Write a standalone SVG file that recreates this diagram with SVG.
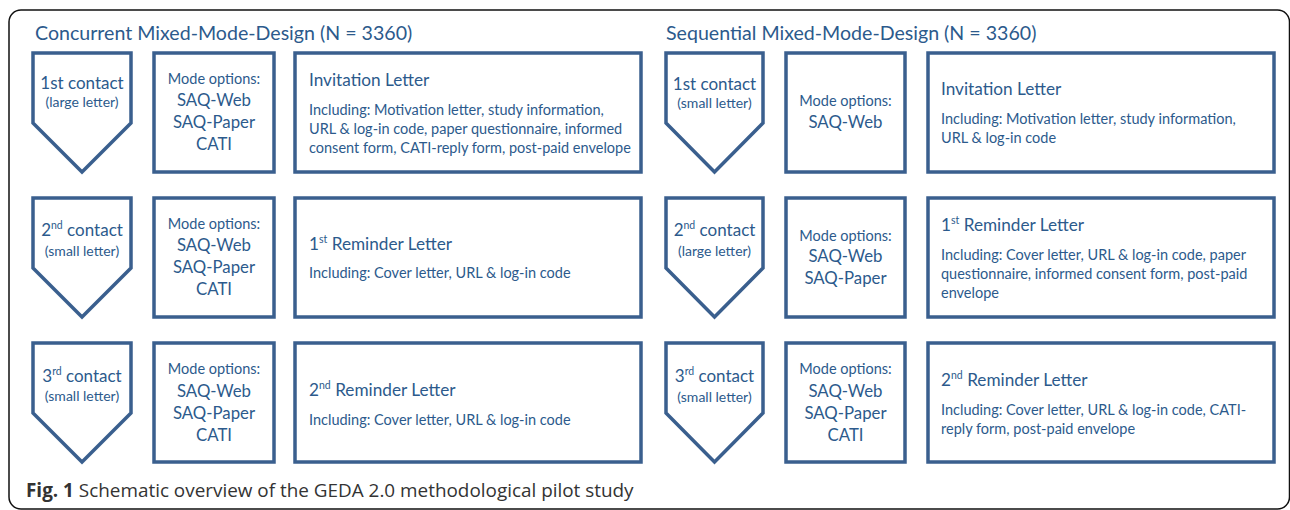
<svg xmlns="http://www.w3.org/2000/svg" width="1290" height="510" viewBox="0 0 1290 510">
<style>
.shape{fill:#fff;stroke:#3a5f8e;stroke-width:3.5;stroke-linejoin:miter}
text{font-family:Lato,"Noto Sans","Liberation Sans",sans-serif;fill:#2c5a8c}
.title{font-size:19.6px}
.c1{font-size:17px;text-anchor:middle}
.c2{font-size:14px;text-anchor:middle}
.m1{font-size:14.5px;text-anchor:middle}
.m2{font-size:16.8px;text-anchor:middle}
.lt{font-size:17.2px}
.ld{font-size:14.5px}
.cap{font-family:"Open Sans","Noto Sans",sans-serif;font-size:18.9px;fill:#333}
</style>
<rect x="9" y="10" width="1280.5" height="499" rx="12" fill="#fff" stroke="#111" stroke-width="1.5"/>
<text class="title" x="35" y="40">Concurrent Mixed-Mode-Design (N = 3360)</text>
<text class="title" x="666" y="40">Sequential Mixed-Mode-Design (N = 3360)</text>
<g id="connectors"/>
<!-- Left column -->
<g id="c-contact1">
<path class="shape" d="M33,53 H131 V123 L82,172 L33,123 Z"/>
<text class="c1" x="82" y="89">1st contact</text>
<text class="c2" x="82" y="107">(large letter)</text>
</g>
<g id="c-modes1">
<rect class="shape" x="154" y="53" width="120" height="119"/>
<text class="m1" x="214" y="84">Mode options:</text>
<text class="m2" x="214" y="106">SAQ-Web</text>
<text class="m2" x="214" y="128">SAQ-Paper</text>
<text class="m2" x="214" y="150">CATI</text>
</g>
<g id="c-letter1">
<rect class="shape" x="295" y="53" width="346" height="119"/>
<text class="lt" x="309" y="86">Invitation Letter</text>
<text class="ld" x="309" y="115">Including: Motivation letter, study information,</text>
<text class="ld" x="309" y="134">URL &amp; log-in code, paper questionnaire, informed</text>
<text class="ld" x="309" y="153">consent form, CATI-reply form, post-paid envelope</text>
</g>
<g id="c-contact2">
<path class="shape" d="M33,198 H131 V268 L82,317 L33,268 Z"/>
<text class="c1" x="82" y="236">2<tspan font-size="10.5" dy="-7">nd</tspan><tspan dy="7"> contact</tspan></text>
<text class="c2" x="82" y="256">(small letter)</text>
</g>
<g id="c-modes2">
<rect class="shape" x="154" y="198" width="120" height="119"/>
<text class="m1" x="214" y="229">Mode options:</text>
<text class="m2" x="214" y="251">SAQ-Web</text>
<text class="m2" x="214" y="273">SAQ-Paper</text>
<text class="m2" x="214" y="295">CATI</text>
</g>
<g id="c-letter2">
<rect class="shape" x="295" y="198" width="346" height="119"/>
<text class="lt" x="309" y="250">1<tspan font-size="10.5" dy="-7">st</tspan><tspan dy="7"> Reminder Letter</tspan></text>
<text class="ld" x="309" y="278">Including: Cover letter, URL &amp; log-in code</text>
</g>
<g id="c-contact3">
<path class="shape" d="M33,343 H131 V413 L82,462 L33,413 Z"/>
<text class="c1" x="82" y="382">3<tspan font-size="10.5" dy="-7">rd</tspan><tspan dy="7"> contact</tspan></text>
<text class="c2" x="82" y="401">(small letter)</text>
</g>
<g id="c-modes3">
<rect class="shape" x="154" y="343" width="120" height="119"/>
<text class="m1" x="214" y="374">Mode options:</text>
<text class="m2" x="214" y="397">SAQ-Web</text>
<text class="m2" x="214" y="419">SAQ-Paper</text>
<text class="m2" x="214" y="441">CATI</text>
</g>
<g id="c-letter3">
<rect class="shape" x="295" y="343" width="346" height="119"/>
<text class="lt" x="309" y="396">2<tspan font-size="10.5" dy="-7">nd</tspan><tspan dy="7"> Reminder Letter</tspan></text>
<text class="ld" x="309" y="425">Including: Cover letter, URL &amp; log-in code</text>
</g>
<!-- Right column -->
<g id="s-contact1">
<path class="shape" d="M666,53 H763 V123 L714.5,172 L666,123 Z"/>
<text class="c1" x="714.5" y="90">1st contact</text>
<text class="c2" x="714.5" y="108">(small letter)</text>
</g>
<g id="s-modes1">
<rect class="shape" x="786" y="53" width="119" height="119"/>
<text class="m1" x="845.5" y="106">Mode options:</text>
<text class="m2" x="845.5" y="128">SAQ-Web</text>
</g>
<g id="s-letter1">
<rect class="shape" x="928" y="53" width="346" height="119"/>
<text class="lt" x="941" y="95">Invitation Letter</text>
<text class="ld" x="941" y="124">Including: Motivation letter, study information,</text>
<text class="ld" x="941" y="143">URL &amp; log-in code</text>
</g>
<g id="s-contact2">
<path class="shape" d="M666,198 H763 V268 L714.5,317 L666,268 Z"/>
<text class="c1" x="714.5" y="236">2<tspan font-size="10.5" dy="-7">nd</tspan><tspan dy="7"> contact</tspan></text>
<text class="c2" x="714.5" y="256">(large letter)</text>
</g>
<g id="s-modes2">
<rect class="shape" x="786" y="198" width="119" height="119"/>
<text class="m1" x="845.5" y="241">Mode options:</text>
<text class="m2" x="845.5" y="262">SAQ-Web</text>
<text class="m2" x="845.5" y="284">SAQ-Paper</text>
</g>
<g id="s-letter2">
<rect class="shape" x="928" y="198" width="346" height="119"/>
<text class="lt" x="941" y="231">1<tspan font-size="10.5" dy="-7">st</tspan><tspan dy="7"> Reminder Letter</tspan></text>
<text class="ld" x="941" y="260">Including: Cover letter, URL &amp; log-in code, paper</text>
<text class="ld" x="941" y="279">questionnaire, informed consent form, post-paid</text>
<text class="ld" x="941" y="298">envelope</text>
</g>
<g id="s-contact3">
<path class="shape" d="M666,343 H763 V413 L714.5,462 L666,413 Z"/>
<text class="c1" x="714.5" y="382">3<tspan font-size="10.5" dy="-7">rd</tspan><tspan dy="7"> contact</tspan></text>
<text class="c2" x="714.5" y="402">(small letter)</text>
</g>
<g id="s-modes3">
<rect class="shape" x="786" y="343" width="119" height="119"/>
<text class="m1" x="845.5" y="374">Mode options:</text>
<text class="m2" x="845.5" y="397">SAQ-Web</text>
<text class="m2" x="845.5" y="419">SAQ-Paper</text>
<text class="m2" x="845.5" y="441">CATI</text>
</g>
<g id="s-letter3">
<rect class="shape" x="928" y="343" width="346" height="119"/>
<text class="lt" x="941" y="386">2<tspan font-size="10.5" dy="-7">nd</tspan><tspan dy="7"> Reminder Letter</tspan></text>
<text class="ld" x="941" y="415">Including: Cover letter, URL &amp; log-in code, CATI-</text>
<text class="ld" x="941" y="434">reply form, post-paid envelope</text>
</g>
<text class="cap" x="26" y="497"><tspan font-weight="bold">Fig. 1</tspan> Schematic overview of the GEDA 2.0 methodological pilot study</text>
</svg>
